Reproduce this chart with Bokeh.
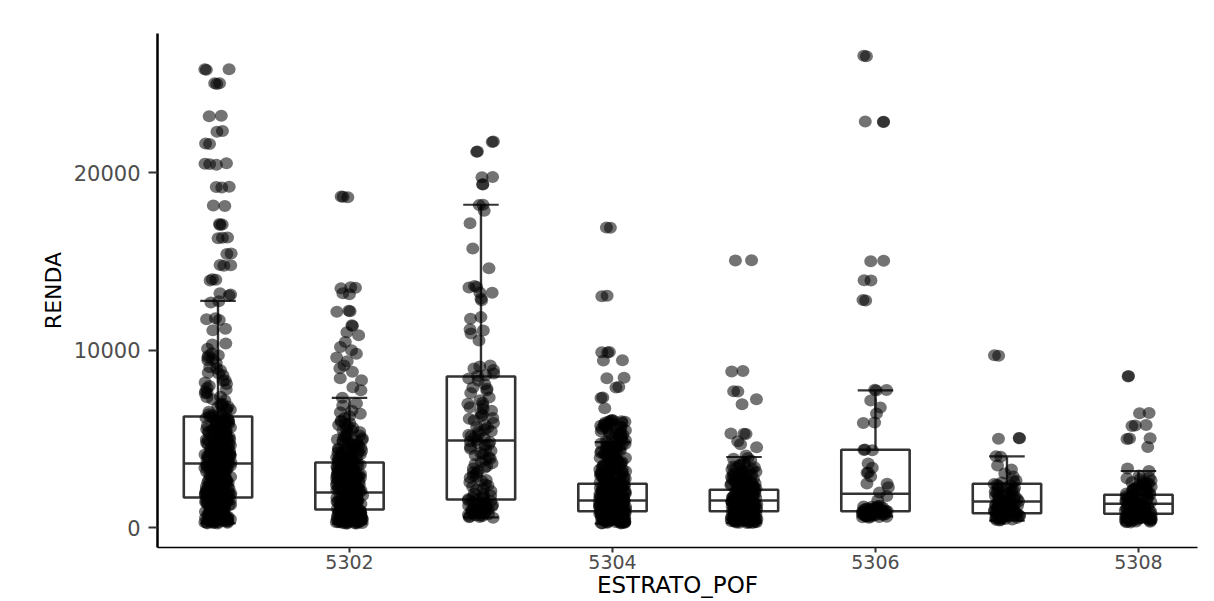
import numpy as np
from bokeh.plotting import figure
from bokeh.models import ColumnDataSource, Range1d, FixedTicker
from bokeh.embed import file_html
from bokeh.resources import INLINE

# ---------------- data ----------------
estrato = [5301, 5302, 5303, 5304, 5305, 5306, 5307, 5308]
x_ticks = [5302, 5304, 5306, 5308]
y_ticks = [0, 10000, 20000]

q1 = [1718, 1042, 1606, 946, 946, 946, 834, 800]
mediana = [3634, 2000, 4930, 1549, 1549, 1927, 1493, 1363]
q3 = [6282, 3690, 8535, 2490, 2152, 4406, 2490, 1870]
whisker_hi = [12800, 7335, 18210, 4840, 4000, 7750, 4030, 3210]
whisker_lo = [260, 240, 600, 250, 280, 650, 420, 310]

renda_5301 = [
    25840, 25840, 25810, 25060, 25050, 25020, 23220, 23200, 22360, 22330, 21660, 21630,
    20550, 20520, 20500, 20470, 19230, 19210, 19180, 18170, 18140, 17130, 17100, 17070,
    16370, 16350, 16320, 15470, 15440, 14820, 14800, 14770, 14020, 13990, 13940, 13220,
    13150, 13100, 12780, 12700, 11810, 11760, 11720, 11220, 11140, 10400, 10340, 9730,
    9700, 9610, 9500, 9450, 9050, 9000, 8890, 8750, 8710, 8320, 8300, 8110, 8000, 7890,
    7800, 7590, 7600, 7360, 7400, 7190, 6990, 7000, 6900, 6800, 6700, 6660, 6600, 6470,
    6410, 6330, 6280, 6190, 6120, 6060, 5990, 5940, 5870, 5810, 5730, 5690, 5620, 5560,
    5490, 5430, 5380, 5310, 5240, 5190, 5120, 5060, 4990, 4940, 4870, 4800, 4760, 4690,
    4610, 4570, 4500, 4430, 4380, 4310, 4260, 4180, 4120, 4070, 3990, 3940, 3880, 3810,
    3760, 3690, 3640, 3580, 3510, 3470, 3400, 3350, 3290, 3220, 3170, 3110, 3040, 2990,
    2920, 2880, 2810, 2760, 2690, 2640, 2580, 2530, 2470, 2410, 2360, 2300, 2240, 2190,
    2130, 2080, 2010, 1970, 1910, 1860, 1800, 1750, 1690, 1650, 1590, 1540, 1490, 1440,
    1380, 1340, 1290, 1240, 1190, 1150, 1090, 1050, 1000, 960, 910, 870, 820, 780, 740,
    700, 650, 610, 570, 530, 490, 450, 410, 370, 330, 290, 260,
    6350, 6240, 6160, 6010, 5910, 5850, 5760, 5660, 5600, 5520, 5470, 5350, 5280, 5220,
    5160, 5090, 5010, 4960, 4910, 4840, 4720, 4660, 4590, 4540, 4470, 4410, 4340, 4290,
    4230, 4140, 4100, 4030, 3970, 3910, 3850, 3790, 3730, 3670, 3610, 3560, 3490, 3430,
    3380, 3320, 3260, 3200, 3140, 3080, 3020, 2960, 2900, 2850, 2790, 2730, 2670, 2610,
    2560, 2500, 2440, 2390, 2330, 2270, 2210, 2160, 2100, 2050, 1990, 1940, 1880, 1830,
    1780, 1720, 1670, 1620, 1570, 1510, 1460, 1410, 1360, 1310, 1260, 1210, 1170, 1120,
    1070, 1020, 980, 930, 890, 840, 800, 760, 720, 680, 630, 590, 550, 510, 470, 430,
    390, 350, 310, 280, 250,
    10100, 9850, 9300, 8600, 8200, 7700, 7250, 6850, 6550, 6230, 6070, 5880, 5710, 5530,
    5410, 5250, 5110, 4980, 4820, 4680, 4520, 4400, 4280, 4160, 4050, 3930, 3820, 3700,
    3590, 3480, 3370, 3260, 3150, 3050, 2940, 2840, 2740, 2650, 2550, 2460, 2370, 2280,
    2200, 2110, 2030, 1950, 1870, 1790, 1710, 1640, 1560, 1490, 1420, 1350, 1280, 1220,
    1160, 1100, 1040, 990, 940, 880, 830, 780, 730, 690, 640, 600, 560, 520, 480, 440,
    400, 360, 320, 290,
]
renda_5302 = [
    18680, 18660, 18640, 13570, 13540, 13500, 13220, 13170, 12240, 12210, 12180, 11420,
    11380, 11030, 10860, 10480, 10020, 9820, 9610, 9160, 9000, 8430, 8320, 7930, 7760,
    7340, 7020, 6520, 6440, 5980, 5870, 5720, 5640, 5490, 5350, 5210, 5120, 4990, 4930,
    4850, 4720, 4640, 4550, 4480, 4390, 4310, 4240, 4150, 4080, 3990, 3920, 3850, 3770,
    3700, 3630, 3560, 3490, 3430, 3360, 3290, 3230, 3160, 3090, 3030, 2970, 2900, 2840,
    2780, 2720, 2660, 2600, 2540, 2480, 2430, 2370, 2310, 2260, 2200, 2150, 2090, 2040,
    1990, 1940, 1890, 1840, 1790, 1740, 1690, 1640, 1600, 1550, 1500, 1460, 1410, 1370,
    1330, 1280, 1240, 1200, 1160, 1120, 1080, 1040, 1000, 960, 920, 880, 840, 800, 770,
    730, 690, 660, 620, 590, 550, 520, 480, 450, 420, 390, 360, 330, 300, 270, 240,
    6900, 6600, 6200, 6050, 5800, 5560, 5410, 5270, 5160, 5050, 4960, 4890, 4790, 4680,
    4600, 4510, 4430, 4350, 4270, 4200, 4120, 4030, 3960, 3880, 3810, 3740, 3670, 3600,
    3530, 3460, 3400, 3330, 3260, 3200, 3130, 3060, 3000, 2940, 2870, 2810, 2750, 2690,
    2630, 2570, 2510, 2450, 2400, 2340, 2290, 2230, 2180, 2120, 2070, 2010, 1960, 1910,
    1860, 1810, 1760, 1710, 1660, 1620, 1570, 1520, 1480, 1430, 1390, 1350, 1300, 1260,
    1220, 1180, 1140, 1100, 1060, 1020, 980, 940, 900, 860, 820, 780, 750, 710, 670, 640,
    600, 570, 530, 500, 470, 430, 400, 370, 340, 310, 280, 250,
    10200, 9400, 8800, 6300, 5900, 5500, 4900, 4700, 4500, 4330, 4180, 4010, 3880, 3750,
    3620, 3500, 3380, 3270, 3150, 3040, 2930, 2830, 2730, 2630, 2530, 2440, 2350, 2260,
    2170, 2090, 2010, 1930, 1850, 1780, 1700, 1630, 1560, 1490, 1430, 1360, 1300, 1240,
    1180, 1130, 1070, 1020, 970, 920, 870, 820, 780, 740, 700, 650, 610, 580, 540, 500,
    460, 420, 380, 350, 320, 290, 260,
]
renda_5303 = [
    21770, 21750, 21210, 21190, 19780, 19760, 19370, 19350, 18210, 18190, 17870, 17170,
    15740, 14630, 13640, 13580, 13550, 13270, 13250, 12930, 12830, 11880, 11790, 11190,
    11130, 10960, 10560, 9150, 9100, 8990, 8710, 8560, 8420, 8310, 7920, 7850, 7750,
    7350, 7200, 7050, 6900, 6720, 6600, 6480, 6300, 6150, 6060, 5920, 5800, 5650, 5530,
    5420, 5300, 5180, 5050, 4960, 4880, 4790, 4700, 4580, 4460, 4350, 4220, 4100, 3980,
    3850, 3720, 3600, 3480, 3350, 3200, 3080, 2950, 2830, 2700, 2580, 2450, 2330, 2200,
    2080, 1950, 1830, 1720, 1640, 1560, 1480, 1400, 1320, 1250, 1180, 1110, 1040, 980,
    920, 860, 800, 750, 700, 650, 600,
    8900, 8600, 8100, 7600, 7000, 6800, 6400, 6200, 5700, 5450, 5250, 5100, 4850, 4650,
    4400, 4150, 3900, 3650, 3400, 3150, 2900, 2650, 2400, 2150, 1900, 1780, 1680, 1600,
    1520, 1440, 1360, 1290, 1210, 1140, 1070, 1010, 950, 890, 830, 770, 720, 670, 620, 580,
]
renda_5304 = [
    16930, 16910, 13080, 13060, 9920, 9900, 9880, 9450, 9430, 8470, 8440, 7940, 7910,
    7350, 7320, 6740, 6090, 6060, 6020, 5980, 5930, 5870, 5800, 5720, 5660, 5590, 5510,
    5440, 5370, 5290, 5210, 5140, 5060, 4990, 4910, 4840, 4760, 4690, 4610, 4540, 4470,
    4390, 4320, 4250, 4180, 4110, 4040, 3970, 3900, 3830, 3770, 3700, 3640, 3570, 3510,
    3450, 3380, 3320, 3260, 3200, 3140, 3080, 3020, 2970, 2910, 2850, 2800, 2740, 2690,
    2630, 2580, 2530, 2480, 2430, 2380, 2330, 2280, 2230, 2190, 2140, 2090, 2050, 2000,
    1960, 1910, 1870, 1830, 1790, 1740, 1700, 1660, 1620, 1580, 1540, 1500, 1460, 1430,
    1390, 1350, 1310, 1280, 1240, 1210, 1170, 1140, 1100, 1070, 1040, 1000, 970, 940,
    910, 880, 850, 820, 790, 760, 730, 700, 670, 640, 610, 580, 550, 520, 490, 460, 430,
    400, 370, 340, 310, 280, 250,
    6050, 6000, 5950, 5900, 5840, 5760, 5690, 5620, 5550, 5470, 5400, 5330, 5250, 5180,
    5100, 5030, 4950, 4880, 4800, 4730, 4650, 4580, 4500, 4430, 4360, 4290, 4220, 4150,
    4080, 4010, 3940, 3870, 3800, 3740, 3670, 3610, 3540, 3480, 3420, 3350, 3290, 3230,
    3170, 3110, 3050, 2990, 2940, 2880, 2820, 2770, 2710, 2660, 2610, 2550, 2500, 2450,
    2400, 2350, 2300, 2260, 2210, 2160, 2120, 2070, 2020, 1980, 1940, 1890, 1850, 1810,
    1760, 1720, 1680, 1640, 1600, 1560, 1520, 1480, 1440, 1410, 1370, 1330, 1300, 1260,
    1220, 1190, 1150, 1120, 1090, 1050, 1020, 990, 960, 920, 890, 860, 830, 800, 770,
    740, 710, 680, 650, 620, 590, 560, 530, 500, 470, 440, 410, 380, 350, 320, 290, 260,
    4460, 4200, 3950, 3720, 3500, 3300, 3120, 2950, 2800, 2660, 2520, 2400, 2290, 2180,
    2080, 1990, 1900, 1820, 1740, 1670, 1600, 1530, 1470, 1410, 1350, 1290, 1240, 1190,
    1140, 1090, 1040, 1000, 950, 910, 870, 830, 790, 750, 710, 680, 640, 600, 570, 540,
    500, 470, 440, 410, 380, 350, 320, 290, 270,
]
renda_5305 = [
    15090, 15070, 8840, 8820, 7710, 7690, 7250, 6970, 5330, 5310, 5290, 4880, 4720, 4550,
    4080, 3950, 3800, 3640, 3500, 3420, 3330, 3250, 3170, 3090, 3010, 2940, 2870, 2800,
    2730, 2660, 2600, 2540, 2480, 2420, 2360, 2300, 2250, 2190, 2140, 2090, 2040, 1990,
    1940, 1890, 1840, 1800, 1750, 1710, 1660, 1620, 1580, 1540, 1500, 1460, 1420, 1380,
    1340, 1300, 1260, 1230, 1190, 1150, 1120, 1080, 1050, 1010, 980, 950, 910, 880, 850,
    820, 790, 760, 730, 700, 670, 640, 610, 580, 550, 520, 490, 460, 430, 400, 370, 340,
    310, 280,
    3900, 3700, 3560, 3460, 3380, 3290, 3210, 3130, 3050, 2980, 2900, 2830, 2760, 2700,
    2630, 2570, 2510, 2450, 2390, 2330, 2270, 2220, 2160, 2110, 2060, 2010, 1960, 1910,
    1870, 1820, 1780, 1730, 1690, 1640, 1600, 1560, 1520, 1480, 1440, 1400, 1360, 1320,
    1280, 1240, 1210, 1170, 1130, 1100, 1060, 1030, 1000, 960, 930, 900, 860, 830, 800,
    770, 740, 710, 680, 650, 620, 590, 560, 530, 500, 470, 440, 410, 380, 350, 320, 290,
    2950, 2750, 2580, 2420, 2280, 2150, 2030, 1920, 1820, 1730, 1650, 1570, 1500, 1430,
    1360, 1300, 1240, 1180, 1130, 1080, 1030, 980, 940, 890, 850, 810, 770, 730, 690,
    660, 620, 580, 550, 510, 480, 450, 410, 380, 350, 310, 280,
]
renda_5306 = [
    26600, 26580, 22900, 22890, 22870, 15050, 15030, 13960, 13940, 12840, 12820, 7790,
    7770, 7740, 7180, 6790, 6450, 5940, 5920, 4420, 4400, 4380, 3630, 3400, 3130, 3110,
    2900, 2510, 2490, 2300, 2000, 1800, 1550, 1250, 1200, 1150, 1100, 1080, 1020, 990,
    950, 920, 880, 850, 820, 790, 760, 730, 700, 680, 650, 620, 580,
    1240, 1170, 1110, 1060, 1000, 940, 890, 840, 800, 770, 740, 710, 670, 640, 600,
    1210, 1130, 1050, 980, 910, 860, 810, 750, 690, 630,
]
renda_5307 = [
    9730, 9710, 5070, 5050, 5030, 4040, 4020, 3520, 3300, 3070, 2900, 2680, 2560, 2430,
    2310, 2200, 2090, 1990, 1890, 1800, 1710, 1630, 1550, 1480, 1410, 1340, 1270, 1210,
    1150, 1090, 1030, 980, 920, 870, 820, 770, 720, 670, 620, 570, 520, 470, 420,
    2620, 2480, 2360, 2250, 2140, 2040, 1940, 1850, 1760, 1670, 1590, 1510, 1440, 1370,
    1300, 1240, 1180, 1120, 1060, 1000, 950, 900, 850, 800, 750, 700, 650, 600, 550, 500,
    450, 2400, 2100, 1900, 1700, 1520, 1380, 1250, 1130, 1020, 930, 840, 760, 680, 610,
    540, 480,
]
renda_5308 = [
    8560, 8540, 6480, 6460, 5800, 5780, 5750, 5060, 5040, 5010, 4560, 3350, 3210, 2960,
    2850, 2740, 2630, 2530, 2430, 2330, 2240, 2150, 2060, 1980, 1900, 1820, 1750, 1680,
    1610, 1540, 1480, 1420, 1360, 1300, 1240, 1190, 1130, 1080, 1030, 980, 930, 880, 830,
    780, 740, 690, 650, 600, 560, 510, 470, 430, 390, 350, 310,
    2800, 2680, 2580, 2480, 2380, 2290, 2200, 2110, 2020, 1940, 1860, 1790, 1710, 1640,
    1580, 1510, 1450, 1390, 1330, 1270, 1210, 1160, 1100, 1050, 1000, 950, 900, 850, 800,
    760, 710, 670, 620, 580, 530, 490, 450, 410, 370, 330,
    2500, 2250, 2050, 1870, 1720, 1580, 1460, 1350, 1250, 1150, 1060, 970, 890, 810, 740,
    670, 600, 540, 480, 420, 360,
]
renda = [renda_5301, renda_5302, renda_5303, renda_5304,
         renda_5305, renda_5306, renda_5307, renda_5308]

# ---------------- styling / geometry ----------------
BOX_HALF = 0.26
CAP_HALF = 0.135
JIT = 0.1
BOX_COLOR = "#333333"

p = figure(width=1214, height=601, output_backend="svg", toolbar_location=None,
           x_range=Range1d(5300.54, 5308.449), y_range=Range1d(-1099, 27859),
           min_border_left=157, min_border_right=17, min_border_top=33,
           min_border_bottom=54)
p.outline_line_color = None
p.grid.visible = False
p.background_fill_color = "white"
p.border_fill_color = "white"

box = ColumnDataSource(dict(
    x=estrato, q1=q1, med=mediana, q3=q3, lo=whisker_lo, hi=whisker_hi,
    left=[e - BOX_HALF for e in estrato], right=[e + BOX_HALF for e in estrato],
    cl=[e - CAP_HALF for e in estrato], cr=[e + CAP_HALF for e in estrato],
))

p.segment(x0="x", y0="q3", x1="x", y1="hi", source=box, line_color=BOX_COLOR, line_width=2.4)
p.segment(x0="x", y0="lo", x1="x", y1="q1", source=box, line_color=BOX_COLOR, line_width=2.4)
p.segment(x0="cl", y0="hi", x1="cr", y1="hi", source=box, line_color=BOX_COLOR, line_width=2.2)
p.segment(x0="cl", y0="lo", x1="cr", y1="lo", source=box, line_color=BOX_COLOR, line_width=2.2)
p.quad(left="left", right="right", bottom="q1", top="q3", source=box,
       fill_color=None, line_color=BOX_COLOR, line_width=2.6)
p.segment(x0="left", y0="med", x1="right", y1="med", source=box,
          line_color=BOX_COLOR, line_width=2.4)

# jittered points (deterministic pseudo-random horizontal jitter, like geom_jitter)
px, py = [], []
for k, (e, vals) in enumerate(zip(estrato, renda)):
    n = len(vals)
    h = np.abs(np.sin(np.arange(n) * 12.9898 + k * 78.233) * 43758.5453) % 1.0
    offs = (h - 0.5) * 2 * JIT
    px.extend((e + offs).tolist())
    py.extend(vals)
pts = ColumnDataSource(dict(x=px, y=py))
p.ellipse(x="x", y="y", width=13, height=12, width_units="screen", height_units="screen",
          source=pts, fill_color="black", fill_alpha=0.55, line_color=None)

# axes
p.xaxis.ticker = FixedTicker(ticks=x_ticks)
p.yaxis.ticker = FixedTicker(ticks=y_ticks)
for ax in (p.xaxis, p.yaxis):
    ax.minor_tick_line_color = None
    ax.major_tick_in = 0
    ax.major_tick_line_color = BOX_COLOR
    ax.major_tick_line_width = 2
    ax.axis_line_color = "black"
    ax.major_label_text_color = "#4d4d4d"
    ax.major_label_text_font = "DejaVu Sans"
    ax.axis_label_text_font = "DejaVu Sans"
    ax.axis_label_text_font_style = "normal"
    ax.axis_label_text_color = "black"
p.yaxis.major_label_text_font_size = "21px"
p.xaxis.major_label_text_font_size = "19px"
p.yaxis.major_tick_out = 9
p.xaxis.major_tick_out = 5
p.yaxis.axis_line_width = 2.5
p.xaxis.axis_line_width = 1.6
p.yaxis.major_label_standoff = 8
p.xaxis.major_label_standoff = 2

p.yaxis.axis_label = "RENDA"
p.yaxis.axis_label_text_font_size = "22px"
p.yaxis.axis_label_standoff = 5

p.xaxis.axis_label = "ESTRATO_POF"
p.xaxis.axis_label_text_font_size = "23px"
p.xaxis.axis_label_standoff = 0

open("out.html", "w").write(file_html(p, INLINE))
